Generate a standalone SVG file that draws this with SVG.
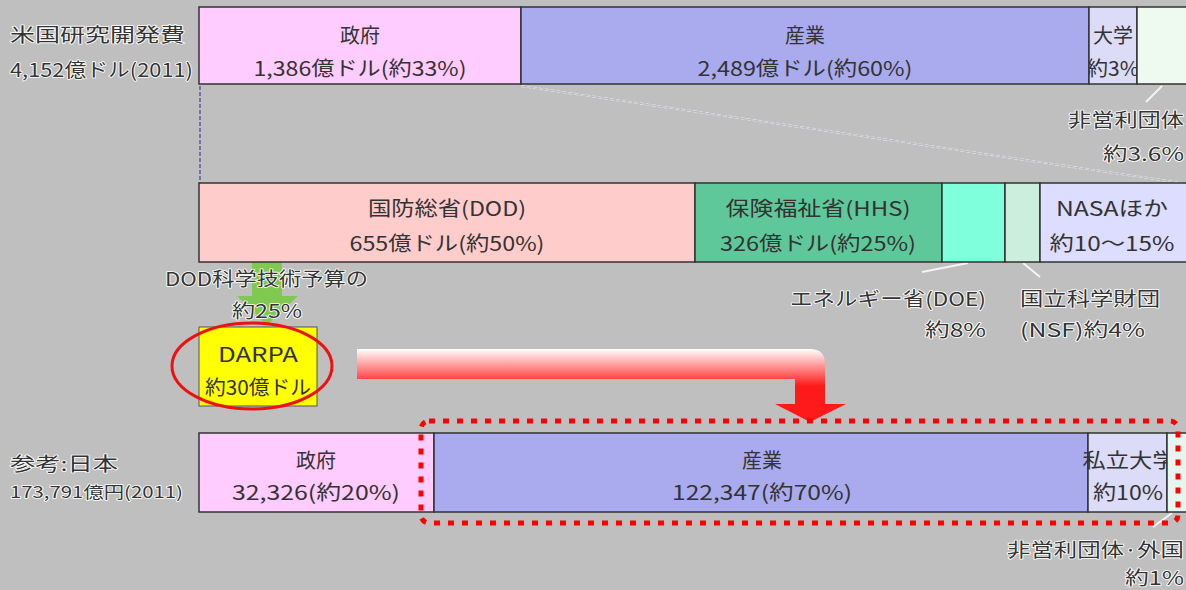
<svg xmlns="http://www.w3.org/2000/svg" width="1186" height="590" viewBox="0 0 1186 590">
<defs>
<style>
.t{font-family:"Noto Sans CJK JP","Noto Sans",sans-serif;font-size:20px;fill:#333;text-anchor:middle;dominant-baseline:central}
.o{font-family:"Noto Sans CJK JP","Noto Sans",sans-serif;font-size:19px;fill:#333;dominant-baseline:central;stroke:#fff;stroke-width:1.6px;paint-order:stroke;stroke-linejoin:round}
.b{stroke:#333;stroke-width:1.5}
.lead{stroke:#f4f4f4;stroke-width:2;fill:none}
.dash{stroke:#f0f0f0;stroke-width:2;stroke-dasharray:4 2;fill:none}
</style>
<linearGradient id="rg" gradientUnits="userSpaceOnUse" x1="0" y1="349" x2="0" y2="386">
<stop offset="0" stop-color="#ffffff"/>
<stop offset="1" stop-color="#ff1a1a"/>
</linearGradient>
<clipPath id="cu"><rect x="1089" y="7" width="48" height="77"/></clipPath>
</defs>
<rect width="1186" height="590" fill="#bfbfbf"/>

<g id="connectors">
<line x1="200" y1="86" x2="200" y2="183" stroke="#5a5aa0" stroke-width="1.5" stroke-dasharray="4 2"/>
<line x1="521" y1="86" x2="1182" y2="183" class="dash"/>
<line x1="521" y1="86" x2="1182" y2="183" stroke="#8888aa" stroke-width="0.6" stroke-dasharray="4 2"/>
<line x1="1162" y1="86" x2="1146" y2="102" class="lead"/>
<line x1="968" y1="263" x2="922" y2="272" class="lead"/>
<line x1="1023" y1="263" x2="1040" y2="277" class="lead"/>
<line x1="1172" y1="513" x2="1153" y2="527" class="lead"/>
<path id="green-arrow" d="M252,262 H282 V296 H298 L267,325 L237,296 H252 Z" fill="#80c850"/>
<path id="red-arrow" d="M357,349 H810 Q825,349 825,364 V404 H846 L810,422 L775,404 H795 V379 H357 Z" fill="url(#rg)"/>
</g>

<g id="us-label">
<text class="o" x="10" y="33" textLength="175" lengthAdjust="spacingAndGlyphs">米国研究開発費</text>
<text class="o" x="10" y="68" textLength="183" lengthAdjust="spacingAndGlyphs">4,152億ドル(2011)</text>
</g>

<g id="us-gov">
<rect class="b" x="199" y="7" width="322" height="77" fill="#ffccff"/>
<text class="t" x="360" y="34">政府</text>
<text class="t" x="360" y="67" textLength="213" lengthAdjust="spacingAndGlyphs">1,386億ドル(約33%)</text>
</g>
<g id="us-industry">
<rect class="b" x="521" y="7" width="568" height="77" fill="#aaaaee"/>
<text class="t" x="805" y="34">産業</text>
<text class="t" x="805" y="67" textLength="215" lengthAdjust="spacingAndGlyphs">2,489億ドル(約60%)</text>
</g>
<g id="us-univ">
<rect class="b" x="1089" y="7" width="48" height="77" fill="#dcdcf8"/>
<g clip-path="url(#cu)">
<text class="t" x="1113" y="34">大学</text>
<text class="t" x="1113" y="67" textLength="52" lengthAdjust="spacingAndGlyphs">約3%</text>
</g>
</g>
<g id="us-nonprofit">
<rect class="b" x="1137" y="7" width="52" height="77" fill="#eefaf0"/>
<text class="o" x="1184" y="118" text-anchor="end" textLength="116" lengthAdjust="spacingAndGlyphs">非営利団体</text>
<text class="o" x="1184" y="152" text-anchor="end" textLength="81" lengthAdjust="spacingAndGlyphs">約3.6%</text>
</g>

<g id="dod">
<rect class="b" x="199" y="183" width="496" height="79" fill="#ffcccc"/>
<text class="t" x="447" y="207" textLength="158" lengthAdjust="spacingAndGlyphs">国防総省(DOD)</text>
<text class="t" x="447" y="242" textLength="195" lengthAdjust="spacingAndGlyphs">655億ドル(約50%)</text>
</g>
<g id="hhs">
<rect class="b" x="695" y="183" width="247" height="79" fill="#5fc89a"/>
<text class="t" x="818" y="207" textLength="185" lengthAdjust="spacingAndGlyphs">保険福祉省(HHS)</text>
<text class="t" x="818" y="242" textLength="196" lengthAdjust="spacingAndGlyphs">326億ドル(約25%)</text>
</g>
<g id="doe">
<rect class="b" x="942" y="183" width="63" height="79" fill="#80ffdd"/>
<text class="o" x="986" y="297" text-anchor="end" textLength="196" lengthAdjust="spacingAndGlyphs">エネルギー省(DOE)</text>
<text class="o" x="986" y="328" text-anchor="end" textLength="61" lengthAdjust="spacingAndGlyphs">約8%</text>
</g>
<g id="nsf">
<rect class="b" x="1005" y="183" width="35" height="79" fill="#cceedd"/>
<text class="o" x="1020" y="297" textLength="140" lengthAdjust="spacingAndGlyphs">国立科学財団</text>
<text class="o" x="1020" y="328" textLength="125" lengthAdjust="spacingAndGlyphs">(NSF)約4%</text>
</g>
<g id="nasa">
<rect class="b" x="1040" y="183" width="150" height="79" fill="#ddddff"/>
<text class="t" x="1112" y="207" textLength="112" lengthAdjust="spacingAndGlyphs">NASAほか</text>
<text class="t" x="1112" y="242" textLength="125" lengthAdjust="spacingAndGlyphs">約10～15%</text>
</g>

<g id="dod-st-label">
<text class="o" x="165" y="277" textLength="203" lengthAdjust="spacingAndGlyphs">DOD科学技術予算の</text>
<text class="o" x="232" y="309" textLength="70" lengthAdjust="spacingAndGlyphs">約25%</text>
</g>

<g id="darpa">
<rect x="199" y="327" width="118" height="79" fill="#ffff00" stroke="#555" stroke-width="1"/>
<text class="t" x="258" y="353" textLength="80" lengthAdjust="spacingAndGlyphs">DARPA</text>
<text class="t" x="258" y="386" textLength="106" lengthAdjust="spacingAndGlyphs">約30億ドル</text>
<ellipse cx="252" cy="366" rx="80" ry="43" fill="none" stroke="#ee1111" stroke-width="3"/>
</g>

<g id="jp-label">
<text class="o" x="10" y="462" textLength="108" lengthAdjust="spacingAndGlyphs">参考:日本</text>
<text class="o" x="10" y="491" style="font-size:16px" textLength="173" lengthAdjust="spacingAndGlyphs">173,791億円(2011)</text>
</g>
<g id="jp-gov">
<rect class="b" x="199" y="433" width="235" height="79" fill="#ffccff"/>
<text class="t" x="316" y="459">政府</text>
<text class="t" x="316" y="491" textLength="168" lengthAdjust="spacingAndGlyphs">32,326(約20%)</text>
</g>
<g id="jp-industry">
<rect class="b" x="434" y="433" width="654" height="79" fill="#aaaaee"/>
<text class="t" x="762" y="459">産業</text>
<text class="t" x="762" y="491" textLength="180" lengthAdjust="spacingAndGlyphs">122,347(約70%)</text>
</g>
<g id="jp-univ">
<rect class="b" x="1088" y="433" width="79" height="79" fill="#dcdcf8"/>
<text class="t" x="1129" y="459" textLength="93" lengthAdjust="spacingAndGlyphs">私立大学</text>
<text class="t" x="1128" y="491" textLength="70" lengthAdjust="spacingAndGlyphs">約10%</text>
</g>
<g id="jp-nonprofit">
<rect class="b" x="1167" y="433" width="22" height="79" fill="#e6f6ee"/>
<text class="o" x="1184" y="548" text-anchor="end" textLength="177" lengthAdjust="spacingAndGlyphs">非営利団体·外国</text>
<text class="o" x="1184" y="576" text-anchor="end" textLength="59" lengthAdjust="spacingAndGlyphs">約1%</text>
</g>

<g id="highlight">
<rect x="421" y="421" width="757" height="102" rx="8" fill="none" stroke="#ff0000" stroke-width="5" stroke-dasharray="6 8"/>
</g>
</svg>
